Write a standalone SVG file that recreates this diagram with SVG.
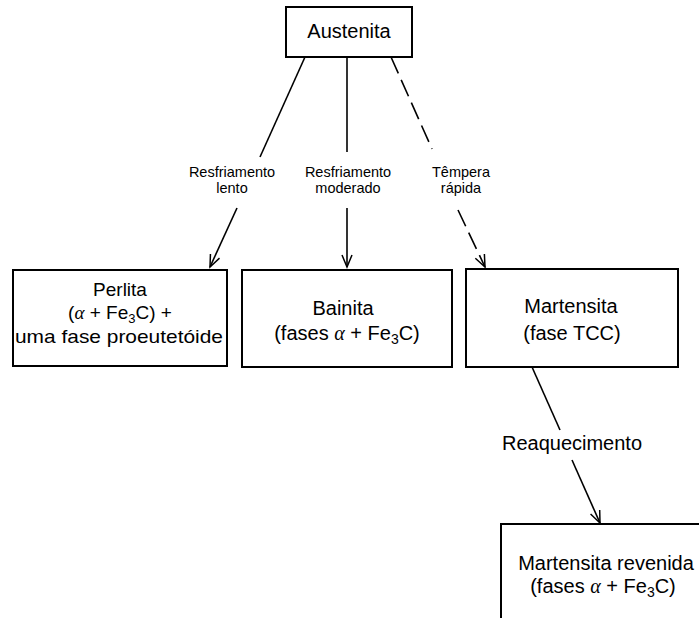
<svg xmlns="http://www.w3.org/2000/svg" width="699" height="618" viewBox="0 0 699 618">
<defs>
<style>
.box{fill:#fff;stroke:#000;stroke-width:2}
.t{font-family:"Liberation Sans",Arial,sans-serif;font-size:20px;text-anchor:middle;fill:#000}
.p{font-size:19px}
.l{font-family:"Liberation Sans",Arial,sans-serif;font-size:14.5px;text-anchor:middle;fill:#000}
.a{font-family:"Liberation Serif","Times New Roman",serif;font-style:italic}
.e{stroke:#000;stroke-width:1.6;fill:none}
.d{stroke-dasharray:18 7}
</style>
<marker id="ah" markerUnits="userSpaceOnUse" markerWidth="16" markerHeight="14" refX="13" refY="6" orient="auto">
<path d="M1,1 L13,6 L1,11" fill="none" stroke="#000" stroke-width="1.5"/>
</marker>
</defs>
<rect width="699" height="618" fill="#fff"/>
<g id="connectors">
<line class="e" x1="305" y1="57" x2="260" y2="157"/>
<line class="e" x1="237" y1="208" x2="210" y2="267" marker-end="url(#ah)"/>
<line class="e" x1="347" y1="57" x2="347" y2="152"/>
<line class="e" x1="347" y1="208" x2="347" y2="267" marker-end="url(#ah)"/>
<line class="e d" x1="391" y1="57" x2="432" y2="149"/>
<line class="e d" x1="458" y1="210" x2="485" y2="267" marker-end="url(#ah)"/>
<line class="e" x1="532" y1="367" x2="560" y2="430"/>
<line class="e" x1="572" y1="460" x2="600" y2="523" marker-end="url(#ah)"/>
<g id="labels">
<text class="l" x="232" y="177">Resfriamento</text>
<text class="l" x="232" y="193">lento</text>
<text class="l" x="348" y="177">Resfriamento</text>
<text class="l" x="348" y="193">moderado</text>
<text class="l" x="461" y="177">Têmpera</text>
<text class="l" x="461" y="193">rápida</text>
<text class="t" x="572" y="450">Reaquecimento</text>
</g>
</g>
<g id="austenita">
<rect class="box" x="286" y="7" width="126" height="50"/>
<text class="t" x="349" y="38">Austenita</text>
</g>
<g id="perlita">
<rect class="box" x="13" y="270" width="214" height="96"/>
<text class="t p" x="120" y="296">Perlita</text>
<text class="t p" x="120" y="319">(<tspan class="a">α</tspan> + Fe<tspan font-size="13" dy="4">3</tspan><tspan dy="-4">C) +</tspan></text>
<text class="t p" x="119" y="343" textLength="208" lengthAdjust="spacingAndGlyphs">uma fase proeutetóide</text>
</g>
<g id="bainita">
<rect class="box" x="242" y="270" width="210" height="97"/>
<text class="t" x="343" y="315">Bainita</text>
<text class="t" x="347" y="340">(fases <tspan class="a">α</tspan> + Fe<tspan font-size="14" dy="4">3</tspan><tspan dy="-4">C)</tspan></text>
</g>
<g id="martensita">
<rect class="box" x="466" y="269" width="212" height="98"/>
<text class="t" x="571" y="313">Martensita</text>
<text class="t" x="572" y="340">(fase TCC)</text>
</g>
<g id="martensita-revenida">
<rect class="box" x="501" y="524" width="220" height="120"/>
<text class="t" x="606" y="570">Martensita revenida</text>
<text class="t" x="603" y="593">(fases <tspan class="a">α</tspan> + Fe<tspan font-size="14" dy="4">3</tspan><tspan dy="-4">C)</tspan></text>
</g>
</svg>
